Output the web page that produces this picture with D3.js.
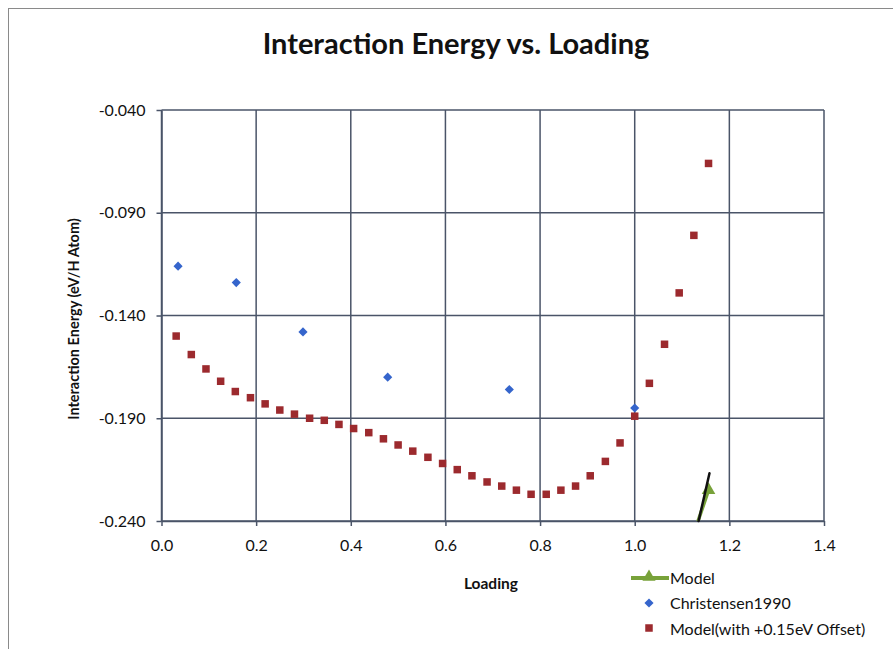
<!DOCTYPE html>
<html>
<head>
<meta charset="utf-8">
<script src="https://cdn.jsdelivr.net/npm/d3@7"></script>
<style>
  html, body { margin: 0; padding: 0; background: #fff; }
  svg { display: block; }
  text { font-family: Lato, "Open Sans", sans-serif; fill: #111; }
</style>
</head>
<body>
<svg id="chart" width="893" height="649"></svg>
<script>
// Loading (H/Pd ratio) for the offset model curve
const modelLoading = [0.031, 0.063, 0.094, 0.125, 0.156, 0.188, 0.219, 0.25, 0.281, 0.313,
  0.344, 0.375, 0.406, 0.438, 0.469, 0.5, 0.531, 0.563, 0.594, 0.625,
  0.656, 0.688, 0.719, 0.75, 0.781, 0.813, 0.844, 0.875, 0.906, 0.938,
  0.969, 1.0, 1.031, 1.063, 1.094, 1.125, 1.156];
// Interaction energy of the model with the +0.15 eV offset (eV/H atom)
const offsetEnergy = [-0.150, -0.159, -0.166, -0.172, -0.177, -0.180, -0.183, -0.186, -0.188, -0.190,
  -0.191, -0.193, -0.195, -0.197, -0.200, -0.203, -0.206, -0.209, -0.212, -0.215,
  -0.218, -0.221, -0.223, -0.225, -0.227, -0.227, -0.225, -0.223, -0.218, -0.211,
  -0.202, -0.189, -0.173, -0.154, -0.129, -0.101, -0.066];

// Raw model (no offset): only the tail reaches into the plotted range
const rawLoading = [1.094, 1.125, 1.156];
const rawEnergy = [-0.275, -0.246, -0.225];

// Christensen 1990 reference values
const chrLoading = [0.035, 0.158, 0.299, 0.478, 0.735, 1.0];
const chrEnergy = [-0.116, -0.124, -0.148, -0.170, -0.176, -0.185];

// Hand-drawn pointer stroke near the model tail (data units)
const pointerLoading = [1.135, 1.158];
const pointerEnergy = [-0.240, -0.2168];

// Axis ticks
const xTicks = [0, 0.2, 0.4, 0.6, 0.8, 1.0, 1.2, 1.4];
const xTickLabels = ["0.0", "0.2", "0.4", "0.6", "0.8", "1.0", "1.2", "1.4"];
const yTicks = [-0.04, -0.09, -0.14, -0.19, -0.24];
const yTickLabels = ["-0.040", "-0.090", "-0.140", "-0.190", "-0.240"];

const legendLabels = ["Model", "Christensen1990", "Model(with +0.15eV Offset)"];

const COL_GRID = "#4a5468";
const COL_RED = "#9c2a2e";
const COL_BLUE = "#3565cc";
const COL_GREEN = "#78a23a";

const svg = d3.select("#chart");

// Outer chart frame
svg.append("rect")
  .attr("x", 8.5).attr("y", 8.5)
  .attr("width", 1000).attr("height", 1000)
  .attr("fill", "none").attr("stroke", "#8a8a8a").attr("stroke-width", 1);

const x = d3.scaleLinear().domain([0, 1.4]).range([161.5, 824]);
const y = d3.scaleLinear().domain([-0.24, -0.04]).range([521, 110]);

// Clip for series that run outside the value range
svg.append("defs").append("clipPath").attr("id", "plotClip")
  .append("rect")
  .attr("x", x(0)).attr("y", y(-0.04))
  .attr("width", x(1.4) - x(0)).attr("height", y(-0.24) - y(-0.04));

// Gridlines
const grid = svg.append("g").attr("stroke", COL_GRID).attr("stroke-width", 1.5);
grid.selectAll("line.v").data(xTicks).join("line")
  .attr("class", "v")
  .attr("x1", d => x(d)).attr("x2", d => x(d))
  .attr("y1", y(-0.04)).attr("y2", y(-0.24));
grid.selectAll("line.h").data(yTicks).join("line")
  .attr("class", "h")
  .attr("x1", x(0)).attr("x2", x(1.4))
  .attr("y1", d => y(d)).attr("y2", d => y(d));

// Axes
const xAxis = d3.axisBottom(x)
  .tickValues(xTicks)
  .tickFormat((d, i) => xTickLabels[i])
  .tickSizeInner(5).tickSizeOuter(0).tickPadding(14);
const yAxis = d3.axisLeft(y)
  .tickValues(yTicks)
  .tickFormat((d, i) => yTickLabels[i])
  .tickSizeInner(5).tickSizeOuter(0).tickPadding(11);

const gx = svg.append("g").attr("transform", `translate(0,${y(-0.24)})`).call(xAxis);
const gy = svg.append("g").attr("transform", `translate(${x(0)},0)`).call(yAxis);
[gx, gy].forEach(g => {
  g.select(".domain").attr("stroke", COL_GRID).attr("stroke-width", 1.5);
  g.selectAll(".tick line").attr("stroke", COL_GRID).attr("stroke-width", 1.5);
  g.selectAll(".tick text")
    .attr("font-family", "Lato, sans-serif")
    .attr("font-size", 16)
    .attr("fill", "#111");
});

// Title and axis titles
svg.append("text")
  .attr("x", 456).attr("y", 54)
  .attr("text-anchor", "middle")
  .attr("font-size", 29).attr("font-weight", 700)
  .text("Interaction Energy vs. Loading");

svg.append("text")
  .attr("transform", "translate(79,319) rotate(-90)")
  .attr("text-anchor", "middle")
  .attr("font-size", 14.5).attr("font-weight", 700)
  .text("Interaction Energy (eV/H Atom)");

svg.append("text")
  .attr("x", 491).attr("y", 589)
  .attr("text-anchor", "middle")
  .attr("font-size", 15.5).attr("font-weight", 700)
  .text("Loading");

// Raw model line (clipped to the plot)
const rawPts = rawLoading.map((v, i) => [v, rawEnergy[i]]);
const plot = svg.append("g").attr("clip-path", "url(#plotClip)");
plot.append("path")
  .datum(rawPts)
  .attr("fill", "none")
  .attr("stroke", COL_GREEN).attr("stroke-width", 3.5)
  .attr("d", d3.line().x(d => x(d[0])).y(d => y(d[1])));
const triangle = d3.symbol().type(d3.symbolTriangle).size(80);
plot.selectAll("path.tri").data(rawPts).join("path")
  .attr("class", "tri")
  .attr("transform", d => `translate(${x(d[0])},${y(d[1])})`)
  .attr("fill", COL_GREEN)
  .attr("d", triangle);

// Pointer stroke
const pointerPts = pointerLoading.map((v, i) => [v, pointerEnergy[i]]);
svg.append("path")
  .datum(pointerPts)
  .attr("fill", "none")
  .attr("stroke", "#111").attr("stroke-width", 2.5)
  .attr("stroke-linecap", "round")
  .attr("d", d3.line().x(d => x(d[0])).y(d => y(d[1])));

// Offset model squares
const sq = 7.5;
svg.append("g").selectAll("rect").data(modelLoading).join("rect")
  .attr("x", d => x(d) - sq / 2)
  .attr("y", (d, i) => y(offsetEnergy[i]) - sq / 2)
  .attr("width", sq).attr("height", sq)
  .attr("fill", COL_RED);

// Christensen diamonds (square turned 45°)
const diamond = d3.symbol().type(d3.symbolSquare).size(42);
svg.append("g").selectAll("path").data(chrLoading).join("path")
  .attr("transform", (d, i) => `translate(${x(d)},${y(chrEnergy[i])}) rotate(45)`)
  .attr("fill", COL_BLUE)
  .attr("d", diamond);

// Legend
const lg = svg.append("g").attr("transform", "translate(649,0)");
lg.append("line")
  .attr("x1", -18).attr("x2", 20).attr("y1", 578).attr("y2", 578)
  .attr("stroke", COL_GREEN).attr("stroke-width", 4);
lg.append("path").attr("transform", "translate(0,577)")
  .attr("fill", COL_GREEN).attr("d", d3.symbol().type(d3.symbolTriangle).size(75));
lg.append("path").attr("transform", "translate(0,603) rotate(45)")
  .attr("fill", COL_BLUE).attr("d", diamond);
lg.append("rect").attr("x", -sq / 2).attr("y", 628 - sq / 2)
  .attr("width", sq).attr("height", sq).attr("fill", COL_RED);
lg.selectAll("text").data(legendLabels).join("text")
  .attr("x", 21)
  .attr("y", (d, i) => 578 + i * 25.5)
  .attr("dy", "0.35em")
  .attr("font-size", 16)
  .text(d => d);
</script>
</body>
</html>
